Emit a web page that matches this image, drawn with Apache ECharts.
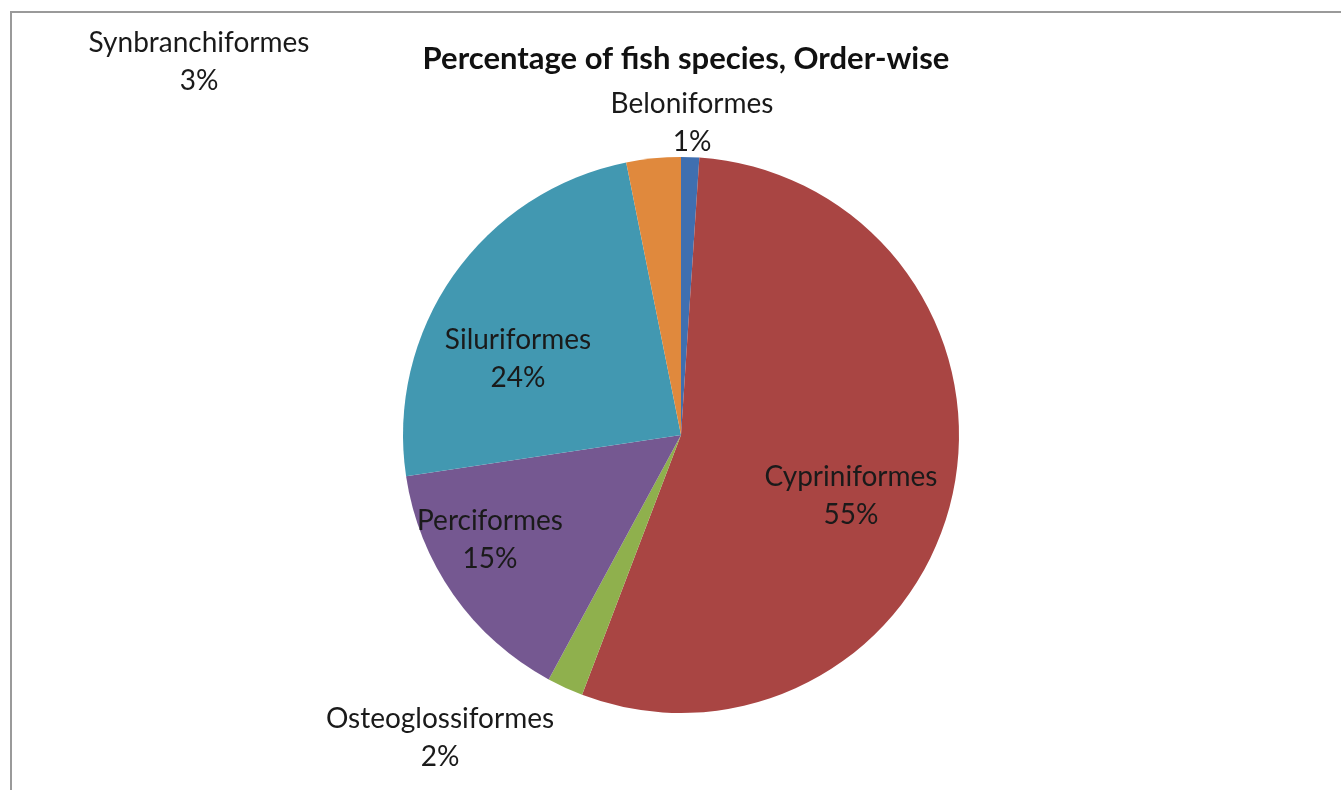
<!DOCTYPE html>
<html>
<head>
<meta charset="utf-8">
<script src="https://cdn.jsdelivr.net/npm/echarts@6/dist/echarts.min.js"></script>
<style>
html,body{margin:0;padding:0;background:#fff;}
#chart{width:1341px;height:790px;}
</style>
</head>
<body>
<div id="chart"></div>
<script>
const categories = ['Beloniformes','Cypriniformes','Osteoglossiformes','Perciformes','Siluriformes','Synbranchiformes'];
const speciesCounts = [1, 52, 2, 14, 23, 3];
const sliceColors = ['#3F6FB0','#A94543','#8FB04D','#755891','#4298B1','#E0893D'];
const titleText = 'Percentage of fish species, Order-wise';

// label anchor positions (Excel-style placement)
const labelPos = [
  [692, 123],
  [851, 496],
  [440, 738],
  [490, 540],
  [518, 359],
  [199, 62]
];

const total = speciesCounts.reduce((a, b) => a + b, 0);
const chart = echarts.init(document.getElementById('chart'));
const FONT = 'Lato';

chart.setOption({
  animation: false,
  title: {
    text: titleText,
    left: 681, top: 38,
    textAlign: 'center',
    textStyle: { fontFamily: FONT, fontWeight: 'bold', fontSize: 31, color: '#111' }
  },
  graphic: [{
    type: 'rect',
    shape: { x: 11, y: 12, width: 1500, height: 1000 },
    style: { fill: null, stroke: '#9a9a9a', lineWidth: 2 },
    silent: true
  }],
  series: [{
    type: 'pie',
    center: [681, 435],
    radius: [0, 278],
    startAngle: 90,
    clockwise: true,
    avoidLabelOverlap: false,
    itemStyle: { borderWidth: 0 },
    label: {
      show: true,
      position: 'inside',
      formatter: p => p.name + '\n' + Math.round(p.value / total * 100) + '%',
      fontFamily: FONT,
      fontSize: 28,
      lineHeight: 38,
      color: '#1a1a1a',
      align: 'center'
    },
    labelLine: { show: false },
    labelLayout: params => ({
      x: labelPos[params.dataIndex][0],
      y: labelPos[params.dataIndex][1],
      align: 'center',
      verticalAlign: 'middle'
    }),
    data: categories.map((c, i) => ({
      name: c,
      value: speciesCounts[i],
      itemStyle: { color: sliceColors[i] }
    }))
  }]
});
</script>
</body>
</html>
